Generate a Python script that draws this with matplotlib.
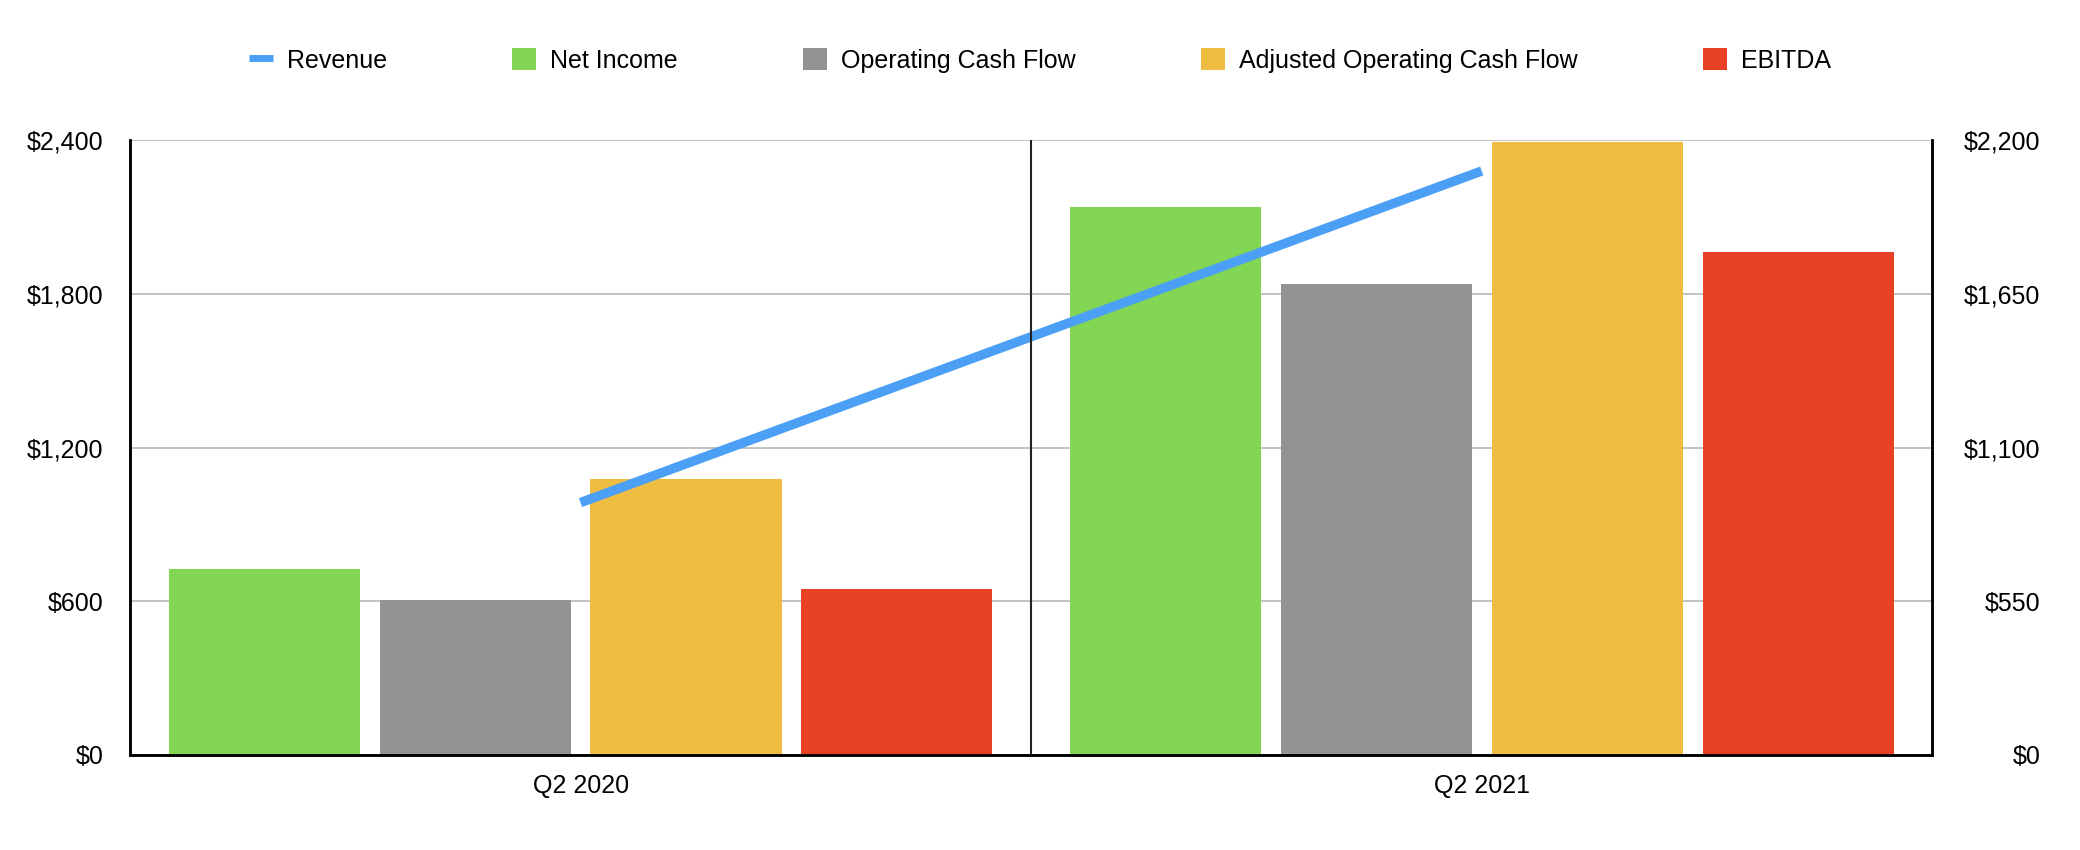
import numpy as np
import matplotlib
matplotlib.use("Agg")
import matplotlib.pyplot as plt
from matplotlib.ticker import FuncFormatter

plt.rcParams['font.family'] = ['Liberation Sans', 'DejaVu Sans']

# data ($ millions)
quarters = ["Q2 2020", "Q2 2021"]
revenue = [903, 2090]
net_income = [726, 2141]
op_cash_flow = [606, 1840]
adj_op_cash_flow = [1078, 2395]
ebitda = [648, 1965]

bar_series = ["Net Income", "Operating Cash Flow", "Adjusted Operating Cash Flow", "EBITDA"]
bar_values = [net_income, op_cash_flow, adj_op_cash_flow, ebitda]
bar_colors = ["#82D653", "#939393", "#EEBC40", "#E94125"]
line_color = "#4BA0F5"

left_ticks = [0, 600, 1200, 1800, 2400]
right_ticks = [0, 550, 1100, 1650, 2200]

fig = plt.figure(figsize=(20.8, 8.5), dpi=100)
ax = fig.add_axes([0.0625, 0.112, 0.8665, 0.723])
ax2 = ax.twinx()

x = np.arange(len(quarters))
width = 0.212
step = 0.234
offsets = (np.arange(len(bar_series)) - 1.5) * step
for name, vals, col, off in zip(bar_series, bar_values, bar_colors, offsets):
    ax.bar(x + off, vals, width, color=col, label=name, zorder=2)

ax2.plot(x, revenue, color=line_color, lw=6.8, solid_capstyle='butt', label="Revenue", zorder=2)

ax.set_xlim(-0.5, len(quarters) - 0.5)
ax.set_ylim(0, 2400)
ax2.set_ylim(0, 2200)
ax.set_yticks(left_ticks)
ax2.set_yticks(right_ticks)
money = FuncFormatter(lambda v, p: "${:,.0f}".format(v))
ax.yaxis.set_major_formatter(money)
ax2.yaxis.set_major_formatter(money)
ax.set_xticks(x)
ax.set_xticklabels(quarters)

ax.grid(axis='y', color='#B8B8B8', lw=1.2, zorder=0)
ax.set_axisbelow(True)

# category divider, drawn over the revenue line
for b in np.arange(0.5, len(quarters) - 0.5):
    ax2.axvline(b, color='#222222', lw=1.5, zorder=4)

for a in (ax, ax2):
    a.spines['top'].set_visible(False)
    for s in ('left', 'right', 'bottom'):
        a.spines[s].set_color('black')
        a.spines[s].set_linewidth(1.8)
        a.spines[s].set_zorder(5)

fs = 18
ax.tick_params(axis='y', length=0, pad=19, labelsize=fs)
ax.tick_params(axis='x', length=0, pad=14, labelsize=fs)
ax2.tick_params(axis='y', length=0, pad=78, labelsize=fs)
for lbl in ax2.get_yticklabels():
    lbl.set_horizontalalignment('right')

h1, l1 = ax2.get_legend_handles_labels()
h2, l2 = ax.get_legend_handles_labels()
leg = fig.legend(h1 + h2, l1 + l2, loc='center', bbox_to_anchor=(0.5, 0.929), ncol=5,
                 frameon=False, fontsize=fs, handlelength=0.95, handleheight=1.0,
                 handletextpad=0.58, columnspacing=5.0)
leg.get_lines()[0].set_linewidth(5)

fig.savefig("out.png", dpi=100)
